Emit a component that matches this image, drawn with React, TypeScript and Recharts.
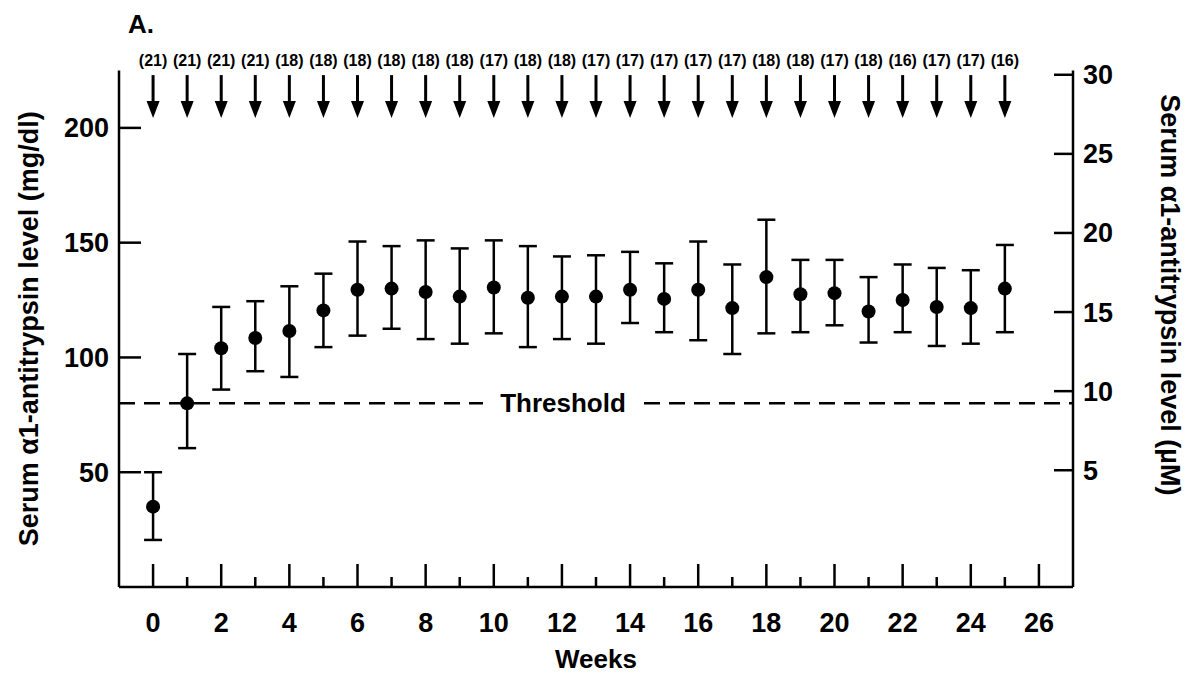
import React from 'react';
import { ScatterChart, Scatter, XAxis, YAxis, ErrorBar, ReferenceLine, Customized } from 'recharts';

const weeks = [0, 1, 2, 3, 4, 5, 6, 7, 8, 9, 10, 11, 12, 13, 14, 15, 16, 17, 18, 19, 20, 21, 22, 23, 24, 25];
const meanLevel = [35, 80, 104, 108.5, 111.5, 120.5, 129.5, 130, 128.5, 126.5, 130.5, 126, 126.5, 126.5, 129.5, 125.5, 129.5, 121.5, 135, 127.5, 128, 120, 125, 122, 121.5, 130];
const upperLevel = [50, 101.5, 122, 124.5, 131, 136.5, 150.5, 148.5, 151, 147.5, 151, 148.5, 144, 144.5, 146, 141, 150.5, 140.5, 160, 142.5, 142.5, 135, 140.5, 139, 138, 149];
const lowerLevel = [20.5, 60.5, 86, 94, 91.5, 104.5, 109.5, 112.5, 108, 106, 110.5, 104.5, 108, 106, 115, 111, 107.5, 101.5, 110.5, 111, 114, 106.5, 111, 105, 106, 111];
const patientCounts = [21, 21, 21, 21, 18, 18, 18, 18, 18, 18, 17, 18, 18, 17, 17, 17, 17, 17, 18, 18, 17, 18, 16, 17, 17, 16];
const xTicks = [0, 1, 2, 3, 4, 5, 6, 7, 8, 9, 10, 11, 12, 13, 14, 15, 16, 17, 18, 19, 20, 21, 22, 23, 24, 25, 26];
const leftTicks = [50, 100, 150, 200];
const rightTicks = [5, 10, 15, 20, 25, 30];
const THRESHOLD = 80;

const FONT = '"Liberation Sans", Arial, Helvetica, sans-serif';
const ARROW_LEVEL = 223;

const points = weeks.map((w, i) => ({
  x: w,
  y: meanLevel[i],
  err: [meanLevel[i] - lowerLevel[i], upperLevel[i] - meanLevel[i]],
}));
const arrows = weeks.map((w, i) => ({ x: w, y: ARROW_LEVEL, n: patientCounts[i] }));

const XTick = (props: any) => {
  const { x, y, payload } = props;
  const v = payload.value;
  const major = v % 2 === 0;
  return (
    <g>
      <line x1={x} y1={y} x2={x} y2={y - (major ? 23 : 10)} stroke="#000" strokeWidth={2.5} />
      {major && (
        <text x={x} y={y + 45} textAnchor="middle" fontFamily={FONT} fontWeight="bold" fontSize={27} fill="#000">
          {v}
        </text>
      )}
    </g>
  );
};

const LeftTick = (props: any) => {
  const { x, y, payload } = props;
  return (
    <g>
      <line x1={x} y1={y} x2={x + 22} y2={y} stroke="#000" strokeWidth={2.5} />
      <text x={x - 10} y={y + 9.5} textAnchor="end" fontFamily={FONT} fontWeight="bold" fontSize={27} fill="#000">
        {payload.value}
      </text>
    </g>
  );
};

const RightTick = (props: any) => {
  const { x, y, payload } = props;
  return (
    <g>
      <line x1={x} y1={y} x2={x - 19} y2={y} stroke="#000" strokeWidth={2.5} />
      <text x={x + 10} y={y + 9.5} textAnchor="start" fontFamily={FONT} fontWeight="bold" fontSize={27} fill="#000">
        {payload.value}
      </text>
    </g>
  );
};

const Dot = (props: any) => {
  const { cx, cy } = props;
  return <circle cx={cx} cy={cy} r={7} fill="#000" />;
};

const Arrow = (props: any) => {
  const { cx, cy, payload } = props;
  return (
    <g>
      <text x={cx} y={cy - 9} textAnchor="middle" fontFamily={FONT} fontWeight="bold" fontSize={16} fill="#000">
        ({payload.n})
      </text>
      <line x1={cx} y1={cy} x2={cx} y2={cy + 30} stroke="#000" strokeWidth={3} />
      <polygon points={`${cx - 6.5},${cy + 26} ${cx + 6.5},${cy + 26} ${cx},${cy + 43}`} fill="#000" />
    </g>
  );
};

const LeftTitle = (props: any) => {
  const vb = props.viewBox;
  const cx = vb.x + 10;
  const cy = vb.y + vb.height / 2;
  return (
    <text x={cx} y={cy} transform={`rotate(-90, ${cx}, ${cy})`} textAnchor="middle" dominantBaseline="central" fontFamily={FONT} fontWeight="bold" fontSize={27} fill="#000">
      Serum α1-antitrypsin level (mg/dl)
    </text>
  );
};

const RightTitle = (props: any) => {
  const vb = props.viewBox;
  const cx = vb.x + 97;
  const cy = vb.y + vb.height / 2 - 34;
  return (
    <text x={cx} y={cy} transform={`rotate(90, ${cx}, ${cy})`} textAnchor="middle" dominantBaseline="central" fontFamily={FONT} fontWeight="bold" fontSize={27} fill="#000">
      Serum α1-antitrypsin level (µM)
    </text>
  );
};

const XTitle = (props: any) => {
  const vb = props.viewBox;
  return (
    <text x={vb.x + vb.width / 2} y={vb.y + 81} textAnchor="middle" fontFamily={FONT} fontWeight="bold" fontSize={26} fill="#000">
      Weeks
    </text>
  );
};

const ThresholdLabel = (props: any) => {
  const vb = props.viewBox;
  const cx = vb.x + vb.width / 2 - 33;
  const cy = vb.y;
  return (
    <g>
      <rect x={cx - 80} y={cy - 14} width={160} height={28} fill="#fff" />
      <text x={cx} y={cy + 9} textAnchor="middle" fontFamily={FONT} fontWeight="bold" fontSize={26} fill="#000">
        Threshold
      </text>
    </g>
  );
};

const PanelLetter = () => (
  <text x={128} y={33} fontFamily={FONT} fontWeight="bold" fontSize={26} fill="#000">
    A.
  </text>
);

export default function App() {
  return (
    <div style={{ position: 'absolute', left: 0, top: 0, width: 1189, height: 674, background: '#fff' }}>
      <ScatterChart width={1189} height={674} margin={{ top: 70.5, right: 10, bottom: 0, left: 19 }}>
        <XAxis
          type="number"
          dataKey="x"
          domain={[-1, 27]}
          ticks={xTicks}
          interval={0}
          height={87}
          tickSize={0}
          tickMargin={0}
          tickLine={false}
          tick={<XTick />}
          axisLine={{ stroke: '#000', strokeWidth: 2.5 }}
          label={<XTitle />}
        />
        <YAxis
          yAxisId="left"
          type="number"
          dataKey="y"
          domain={[0, 225]}
          ticks={leftTicks}
          interval={0}
          width={100}
          tickSize={0}
          tickMargin={0}
          tickLine={false}
          tick={<LeftTick />}
          axisLine={{ stroke: '#000', strokeWidth: 2.5 }}
          label={<LeftTitle />}
        />
        <YAxis
          yAxisId="right"
          orientation="right"
          type="number"
          domain={[-2.38, 30.27]}
          allowDataOverflow
          ticks={rightTicks}
          interval={0}
          width={106}
          tickSize={0}
          tickMargin={0}
          tickLine={false}
          tick={<RightTick />}
          axisLine={{ stroke: '#000', strokeWidth: 2.5 }}
          label={<RightTitle />}
        />
        <ReferenceLine
          yAxisId="left"
          y={THRESHOLD}
          stroke="#000"
          strokeWidth={2.5}
          strokeDasharray="16 9"
          label={<ThresholdLabel />}
        />
        <Scatter yAxisId="left" data={arrows} dataKey="y" shape={<Arrow />} isAnimationActive={false} />
        <Scatter yAxisId="left" data={points} dataKey="y" shape={<Dot />} isAnimationActive={false}>
          <ErrorBar dataKey="err" direction="y" width={9} stroke="#000" strokeWidth={2.5} />
        </Scatter>
        <Customized component={<PanelLetter />} />
      </ScatterChart>
    </div>
  );
}
